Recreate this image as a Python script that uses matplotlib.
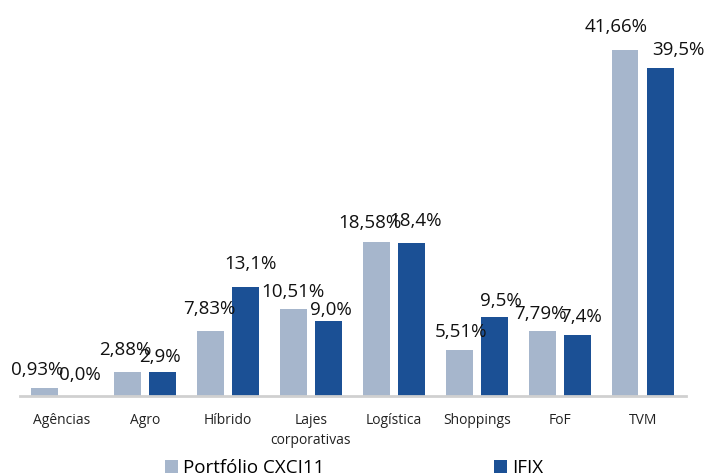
import numpy as np
import matplotlib
matplotlib.use("Agg")
import matplotlib.pyplot as plt

# dados do gráfico
categorias = ["Agências", "Agro", "Híbrido", "Lajes\ncorporativas", "Logística",
              "Shoppings", "FoF", "TVM"]
portfolio = [0.93, 2.88, 7.83, 10.51, 18.58, 5.51, 7.79, 41.66]
ifix = [0.0, 2.9, 13.1, 9.0, 18.4, 9.5, 7.4, 39.5]
rotulos_portfolio = ["0,93%", "2,88%", "7,83%", "10,51%", "18,58%", "5,51%", "7,79%", "41,66%"]
rotulos_ifix = ["0,0%", "2,9%", "13,1%", "9,0%", "18,4%", "9,5%", "7,4%", "39,5%"]

cor_claro = "#A6B6CC"
cor_escuro = "#1B5095"

plt.rcParams["font.family"] = ["Open Sans", "DejaVu Sans"]

fig = plt.figure(figsize=(7.08, 4.75), dpi=100)
ax = fig.add_axes([20 / 708, 1 - 396 / 475, 666 / 708, 396 / 475])

x = np.arange(len(categorias))
w = 0.325
off = 0.215
b1 = ax.bar(x - off, portfolio, w, color=cor_claro, label="Portfólio CXCI11")
b2 = ax.bar(x + off, ifix, w, color=cor_escuro, label="IFIX")

# deslocamento dos rótulos (pixels) como no original
desl_p = [(-7, 18), (-2, 22), (-1, 22), (0, 17), (-6, 19), (2, 18), (-2, 17), (-9, 23)]
desl_i = [(0, 21), (-3, 15), (5, 23), (2, 11), (4, 22), (6, 16), (3, 18), (18, 18)]

for barras, rotulos, desl in [(b1, rotulos_portfolio, desl_p), (b2, rotulos_ifix, desl_i)]:
    for rect, txt, d in zip(barras, rotulos, desl):
        ax.annotate(txt, (rect.get_x() + rect.get_width() / 2, rect.get_height()),
                    xytext=d, textcoords="offset pixels", ha="center", va="center",
                    fontsize=13.5, color="#111111")

ax.set_xlim(-0.506, 7.52)
ax.set_ylim(0, 47.7)
ax.set_xticks(x)
ax.set_xticklabels(categorias, fontsize=10, color="#222222", linespacing=1.5)
ax.tick_params(axis="x", length=0, pad=12)
ax.set_yticks([])
for s in ["top", "right", "left"]:
    ax.spines[s].set_visible(False)
ax.spines["bottom"].set_color("#D0D0D0")
ax.spines["bottom"].set_linewidth(2)

fig.legend(handles=[b1, b2], loc="center", bbox_to_anchor=(0.5, 0.015), ncol=2,
           frameon=False, fontsize=13.5, handlelength=0.7, handleheight=0.7,
           handletextpad=0.3, columnspacing=9.0)

fig.savefig("out.png", dpi=100)
